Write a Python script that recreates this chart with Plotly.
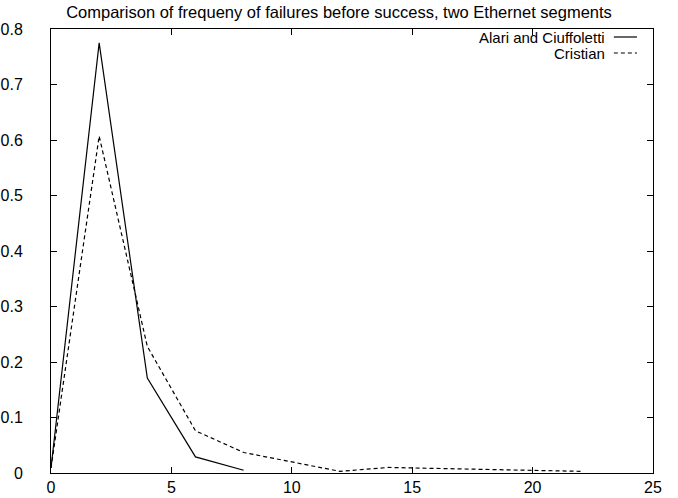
import plotly.graph_objects as go

# Frequency of failures before success, measured on two Ethernet segments
alari_x = [0, 2, 4, 6, 8]
alari_y = [0.009, 0.775, 0.171, 0.029, 0.005]

cristian_x = [0, 2, 4, 6, 8, 10, 12, 14, 16, 18, 20, 22]
cristian_y = [0.009, 0.607, 0.228, 0.076, 0.037, 0.020, 0.003, 0.010, 0.008, 0.007, 0.005, 0.003]

x_ticks = [0, 5, 10, 15, 20, 25]
y_ticks = [0, 0.1, 0.2, 0.3, 0.4, 0.5, 0.6, 0.7, 0.8]
y_tick_text = ["0", "0.1", "0.2", "0.3", "0.4", "0.5", "0.6", "0.7", "0.8"]

series_names = ["Alari and Ciuffoletti", "Cristian"]
series_dash = ["solid", "4px,3px"]

FONT = "Liberation Sans, Arial, Helvetica, sans-serif"

fig = go.Figure()
fig.add_trace(go.Scatter(x=alari_x, y=alari_y, mode="lines", name=series_names[0],
                         line=dict(color="black", width=1.2, dash=series_dash[0])))
fig.add_trace(go.Scatter(x=cristian_x, y=cristian_y, mode="lines", name=series_names[1],
                         line=dict(color="black", width=1.2, dash=series_dash[1])))

axis_common = dict(showline=True, linecolor="black", linewidth=1, mirror="ticks",
                   ticks="inside", ticklen=6, tickcolor="black", tickwidth=1,
                   showgrid=False, zeroline=False, automargin=False,
                   tickfont=dict(family=FONT, size=16, color="black"))

fig.update_xaxes(range=[0, 25], tickvals=x_ticks, ticklabelstandoff=0, **axis_common)
fig.update_yaxes(range=[0, 0.8], tickvals=y_ticks, ticktext=y_tick_text,
                 ticklabelstandoff=24, **axis_common)

# Key in the top-right corner: label text followed by a line sample
plot_top, plot_h = 29, 444
rows_px = [37, 53]
for name, dash, py in zip(series_names, series_dash, rows_px):
    ry = 1 - (py - plot_top) / plot_h
    fig.add_annotation(x=0.9236, y=ry, xref="paper", yref="paper", text=name,
                       showarrow=False, xanchor="right", yanchor="middle",
                       font=dict(family=FONT, size=15, color="black"))
    fig.add_shape(type="line", xref="paper", yref="paper", x0=0.935, x1=0.9734,
                  y0=ry, y1=ry, line=dict(color="black", width=1.2, dash=dash))

fig.update_layout(
    width=678, height=498,
    margin=dict(l=51, r=25, t=29, b=25),
    paper_bgcolor="white", plot_bgcolor="white",
    showlegend=False,
    title=dict(text="Comparison of frequeny of failures before success, two Ethernet segments",
               x=0.5, xanchor="center", y=1 - 12 / 498, yanchor="middle",
               font=dict(family=FONT, size=16.5, color="black")),
)

fig.write_html("out.html")
